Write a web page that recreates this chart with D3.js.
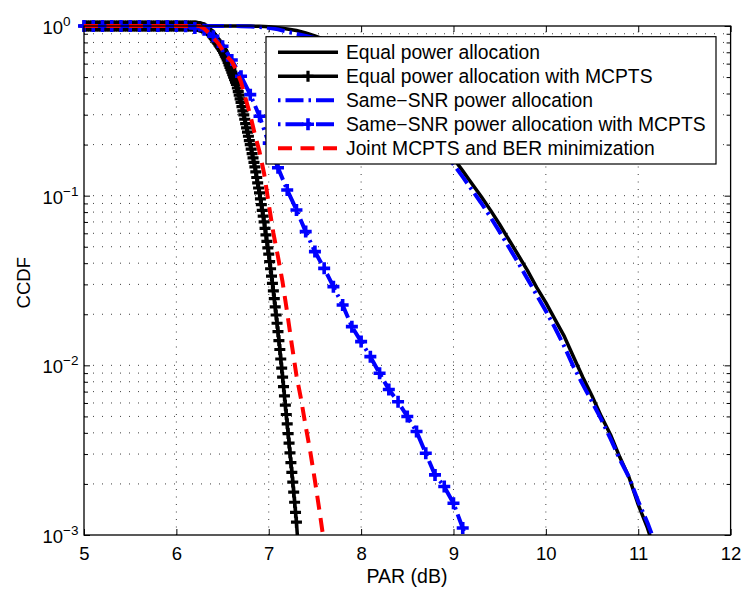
<!DOCTYPE html>
<html><head><meta charset="utf-8">
<script src="https://cdn.jsdelivr.net/npm/d3@7"></script>
<style>
html,body{margin:0;padding:0;background:#fff;}
svg{display:block;font-family:"Liberation Sans",Arial,Helvetica,sans-serif;}
</style></head><body>
<svg id="chart" width="746" height="589"></svg>
<script>
// ---------------- DATA ----------------
const xTickValues = [5, 6, 7, 8, 9, 10, 11, 12];
const yTickValues = [1e-3, 1e-2, 1e-1, 1];
const yTickExponents = ["\u22123", "\u22122", "\u22121", "0"];
const xLabel = "PAR (dB)";
const yLabel = "CCDF";
const seriesNames = [
  "Equal power allocation",
  "Equal power allocation with MCPTS",
  "Same\u2212SNR power allocation",
  "Same\u2212SNR power allocation with MCPTS",
  "Joint MCPTS and BER minimization"
];

// Equal power allocation (solid black)
const eqPar  = [5, 5.5, 6, 6.5, 6.8, 6.9, 7, 7.1, 7.2, 7.3, 7.4, 7.5, 7.6, 7.7, 7.8, 7.9, 8, 8.1, 8.2, 8.3, 8.4, 8.5, 8.6, 8.7, 8.8, 8.9, 9, 9.1, 9.2, 9.3, 9.4, 9.5, 9.6, 9.7, 9.8, 9.9, 10, 10.1, 10.2, 10.3, 10.4, 10.5, 10.6, 10.7, 10.8, 10.9, 11, 11.1, 11.2];
const eqCcdf = [1, 1, 1, 1, 0.999, 0.997, 0.99, 0.978, 0.96, 0.94, 0.91, 0.875, 0.835, 0.79, 0.735, 0.675, 0.615, 0.555, 0.495, 0.44, 0.385, 0.338, 0.295, 0.256, 0.222, 0.192, 0.166, 0.140, 0.1175, 0.0989, 0.0822, 0.0676, 0.055, 0.0447, 0.0363, 0.0288, 0.0234, 0.0186, 0.0148, 0.0112, 0.0085, 0.0066, 0.0050, 0.0039, 0.00288, 0.00219, 0.00151, 0.0011, 0.00075];

// Equal power allocation with MCPTS (black, + markers)
const eqMcptsPar = [
  5, 5.02, 5.04, 5.06, 5.08, 5.1, 5.12, 5.14, 5.16, 5.18, 5.2, 5.22, 5.24, 5.26, 5.28, 5.3, 5.32, 5.34, 5.36, 5.38,
  5.4, 5.42, 5.44, 5.46, 5.48, 5.5, 5.52, 5.54, 5.56, 5.58, 5.6, 5.62, 5.64, 5.66, 5.68, 5.7, 5.72, 5.74, 5.76, 5.78,
  5.8, 5.82, 5.84, 5.86, 5.88, 5.9, 5.92, 5.94, 5.96, 5.98, 6, 6.02, 6.04, 6.06, 6.08, 6.1, 6.12, 6.14, 6.16, 6.18,
  6.2, 6.21, 6.22, 6.23, 6.24, 6.25, 6.26, 6.27, 6.28, 6.29, 6.3, 6.31, 6.32, 6.33, 6.34, 6.35, 6.36, 6.37, 6.38, 6.39,
  6.4, 6.41, 6.42, 6.43, 6.44, 6.45, 6.46, 6.47, 6.48, 6.49, 6.5, 6.51, 6.52, 6.53, 6.54, 6.55, 6.56, 6.57, 6.58, 6.59,
  6.6, 6.61, 6.62, 6.63, 6.64, 6.65, 6.66, 6.67, 6.68, 6.69, 6.7, 6.71, 6.72, 6.73, 6.74, 6.75, 6.76, 6.77, 6.78, 6.79,
  6.8, 6.81, 6.82, 6.83, 6.84, 6.85, 6.86, 6.87, 6.88, 6.89, 6.9, 6.91, 6.92, 6.93, 6.94, 6.95, 6.96, 6.97, 6.98, 6.99,
  7, 7.01, 7.02, 7.03, 7.04, 7.05, 7.06, 7.07, 7.08, 7.09, 7.1, 7.11, 7.12, 7.13, 7.14, 7.15, 7.16, 7.17, 7.18, 7.19,
  7.2, 7.21, 7.22, 7.23, 7.24, 7.25, 7.26, 7.27, 7.28, 7.29, 7.3, 7.31];
const eqMcptsCcdf = [
  1, 1, 1, 1, 1, 1, 1, 1, 1, 1, 1, 1, 1, 1, 1, 1, 1, 1, 1, 1,
  1, 1, 1, 1, 1, 1, 1, 1, 1, 1, 1, 1, 1, 1, 1, 1, 1, 1, 1, 1,
  1, 1, 1, 1, 1, 1, 1, 1, 1, 1, 1, 1, 1, 1, 1, 1, 1, 1, 1, 1,
  1, 0.998, 0.996, 0.994, 0.992, 0.991, 0.987, 0.984, 0.980, 0.976, 0.973, 0.965, 0.957, 0.949, 0.941, 0.933, 0.918, 0.904, 0.889, 0.875,
  0.861, 0.846, 0.831, 0.817, 0.803, 0.789, 0.774, 0.760, 0.746, 0.733, 0.719, 0.701, 0.683, 0.665, 0.648, 0.631, 0.610, 0.590, 0.571, 0.553,
  0.535, 0.517, 0.500, 0.483, 0.467, 0.452, 0.431, 0.410, 0.391, 0.372, 0.355, 0.335, 0.316, 0.299, 0.282, 0.266, 0.251, 0.237, 0.224, 0.211,
  0.200, 0.188, 0.177, 0.167, 0.157, 0.148, 0.138, 0.128, 0.119, 0.111, 0.104, 0.0957, 0.0885, 0.0818, 0.0757, 0.0700, 0.0641, 0.0587, 0.0538, 0.0493,
  0.0452, 0.0409, 0.0371, 0.0336, 0.0304, 0.0275, 0.0247, 0.0221, 0.0198, 0.0177, 0.0158, 0.0140, 0.0124, 0.0109, 0.00964, 0.00851, 0.00750, 0.00661, 0.00582, 0.00513,
  0.00452, 0.00396, 0.00348, 0.00305, 0.00267, 0.00234, 0.00205, 0.00179, 0.00156, 0.00136, 0.00119, 0.00099];

// Same-SNR power allocation (blue dash-dot)
const snrPar  = [5, 5.5, 6, 6.5, 6.7, 6.8, 6.9, 7, 7.1, 7.2, 7.3, 7.4, 7.5, 7.6, 7.7, 7.8, 7.9, 8, 8.1, 8.2, 8.3, 8.4, 8.5, 8.6, 8.7, 8.8, 8.9, 9, 9.1, 9.2, 9.3, 9.4, 9.5, 9.6, 9.7, 9.8, 9.9, 10, 10.1, 10.2, 10.3, 10.4, 10.5, 10.6, 10.7, 10.8, 10.9, 11, 11.1, 11.2];
const snrCcdf = [1, 1, 1, 1, 0.998, 0.994, 0.987, 0.975, 0.955, 0.925, 0.90, 0.875, 0.848, 0.81, 0.763, 0.705, 0.645, 0.585, 0.525, 0.467, 0.412, 0.361, 0.316, 0.275, 0.238, 0.207, 0.179, 0.153, 0.129, 0.108, 0.0905, 0.0748, 0.0612, 0.0496, 0.0403, 0.0324, 0.0260, 0.0209, 0.0166, 0.0129, 0.0098, 0.0077, 0.0061, 0.0048, 0.0037, 0.0028, 0.00219, 0.00158, 0.00118, 0.00085];

// Same-SNR power allocation with MCPTS (blue dash-dot, + markers)
const snrMcptsPar  = [5, 5.1, 5.2, 5.3, 5.4, 5.5, 5.6, 5.7, 5.8, 5.9, 6, 6.1, 6.2, 6.3, 6.4, 6.5, 6.6, 6.7, 6.8, 6.9, 7, 7.1, 7.2, 7.3, 7.4, 7.5, 7.6, 7.7, 7.8, 7.9, 8, 8.1, 8.2, 8.3, 8.4, 8.5, 8.6, 8.7, 8.8, 8.9, 9, 9.1, 9.2];
const snrMcptsCcdf = [1, 1, 1, 1, 1, 1, 1, 1, 1, 1, 1, 0.998, 0.973, 0.95, 0.87, 0.76, 0.63, 0.506, 0.394, 0.294, 0.204, 0.146, 0.108, 0.0824, 0.0614, 0.0468, 0.0373, 0.0291, 0.0227, 0.0169, 0.0138, 0.01125, 0.00898, 0.0072, 0.0061, 0.00499, 0.00407, 0.00303, 0.00226, 0.00193, 0.00154, 0.0011, 0.0007];

// Joint MCPTS and BER minimization (red dashed)
const jointPar  = [5, 5.5, 6, 6.25, 6.3, 6.35, 6.4, 6.45, 6.5, 6.55, 6.6, 6.65, 6.7, 6.75, 6.8, 6.85, 6.9, 6.95, 7, 7.05, 7.1, 7.15, 7.2, 7.25, 7.3, 7.35, 7.4, 7.45, 7.5, 7.55, 7.6];
const jointCcdf = [1, 1, 1, 0.999, 0.966, 0.912, 0.851, 0.794, 0.724, 0.661, 0.617, 0.550, 0.468, 0.372, 0.299, 0.229, 0.182, 0.135, 0.0891, 0.0603, 0.0437, 0.0309, 0.0204, 0.0132, 0.00871, 0.00631, 0.00437, 0.00309, 0.00209, 0.00138, 0.00089];

// ---------------- CHART ----------------
const L = 84, R = 730.6, T = 26, B = 535;
const svg = d3.select("#chart");

const x = d3.scaleLinear().domain([5, 12]).range([L, R]);
const y = d3.scaleLog().domain([1e-3, 1]).range([B, T]);

const minorY = [];
yTickValues.slice(0, -1).forEach(v => { for (let m = 2; m <= 9; m++) minorY.push(v * m); });

// grid
const grid = svg.append("g");
grid.selectAll("line.gx").data(xTickValues.slice(1, -1)).join("line")
  .attr("x1", d => x(d)).attr("x2", d => x(d)).attr("y1", B).attr("y2", T)
  .attr("stroke", "#000").attr("stroke-width", 1).attr("stroke-dasharray", "1,6.5").attr("opacity", 0.75);
grid.selectAll("line.gy").data(minorY.concat(yTickValues.slice(1, -1))).join("line")
  .attr("x1", L).attr("x2", R).attr("y1", d => y(d)).attr("y2", d => y(d))
  .attr("stroke", "#000").attr("stroke-width", 1).attr("stroke-dasharray", "1,8").attr("opacity", 0.75);

// axes ticks (inside)
function styleAxis(g) { g.select(".domain").remove(); g.selectAll("line").attr("stroke", "#000").attr("stroke-width", 1); }
svg.append("g").attr("transform", `translate(0,${B})`)
  .call(d3.axisBottom(x).tickValues(xTickValues).tickSize(-6).tickPadding(12).tickFormat(d3.format("d")))
  .call(styleAxis)
  .call(g => g.selectAll("text").attr("font-size", 18.5).attr("fill", "#000").attr("font-family", "Liberation Sans, Arial, sans-serif"));
svg.append("g").attr("transform", `translate(0,${T})`)
  .call(d3.axisTop(x).tickValues(xTickValues).tickSize(-6).tickFormat(""))
  .call(styleAxis);
svg.append("g").attr("transform", `translate(${L},0)`)
  .call(d3.axisLeft(y).tickValues(yTickValues).tickSize(-6).tickFormat(""))
  .call(styleAxis);
svg.append("g").attr("transform", `translate(${L},0)`)
  .call(d3.axisLeft(y).tickValues(minorY).tickSize(-4).tickFormat(""))
  .call(styleAxis);
svg.append("g").attr("transform", `translate(${R},0)`)
  .call(d3.axisRight(y).tickValues(yTickValues).tickSize(-6).tickFormat(""))
  .call(styleAxis);
svg.append("g").attr("transform", `translate(${R},0)`)
  .call(d3.axisRight(y).tickValues(minorY).tickSize(-4).tickFormat(""))
  .call(styleAxis);

// y tick labels 10^k
const yl = svg.append("g").selectAll("text").data(yTickValues).join("text")
  .attr("x", 42.5).attr("y", d => y(d) + 8).attr("font-size", 18.5).attr("fill", "#000");
yl.append("tspan").text("10");
yl.append("tspan").attr("font-size", 13.5).attr("dy", -8).text((d, i) => yTickExponents[i]);

// axis labels
svg.append("text").attr("x", 407).attr("y", 583).attr("text-anchor", "middle")
  .attr("font-size", 19.5).attr("fill", "#000").text(xLabel);
svg.append("text").attr("transform", "translate(30,282.7) rotate(-90)").attr("text-anchor", "middle")
  .attr("font-size", 18.5).attr("fill", "#000").text(yLabel);

// clip
svg.append("clipPath").attr("id", "plotclip").append("rect")
  .attr("x", L).attr("y", T - 10).attr("width", R - L).attr("height", B - T + 10);

const line = d3.line().x(d => x(d[0])).y(d => y(d[1]));
const zip = (a, b) => a.map((v, i) => [v, b[i]]);
const plusPath = s => `M${-s},0H${s}M0,${-s}V${s}`;

const series = [
  { par: eqPar, ccdf: eqCcdf, color: "#000", width: 3.5, dash: null, marker: 0, mw: 0 },
  { par: eqMcptsPar, ccdf: eqMcptsCcdf, color: "#000", width: 3.5, dash: null, marker: 5.5, mw: 3.2 },
  { par: snrPar, ccdf: snrCcdf, color: "#0000ff", width: 4, dash: "18,5,2.5,5", marker: 0, mw: 0 },
  { par: snrMcptsPar, ccdf: snrMcptsCcdf, color: "#0000ff", width: 4, dash: "18,5,2.5,5", marker: 6, mw: 3.6 },
  { par: jointPar, ccdf: jointCcdf, color: "#ff0000", width: 4, dash: "14,8.5", marker: 0, mw: 0 }
];

const plot = svg.append("g");
series.forEach(s => {
  const pts = zip(s.par, s.ccdf);
  plot.append("path").attr("clip-path", "url(#plotclip)")
    .attr("d", line(pts)).attr("fill", "none").attr("stroke", s.color)
    .attr("stroke-width", s.width).attr("stroke-dasharray", s.dash)
    .attr("stroke-linejoin", "round");
  if (s.marker) {
    plot.append("g").selectAll("path").data(pts.filter(p => p[1] >= 1e-3)).join("path")
      .attr("transform", d => `translate(${x(d[0])},${y(d[1])})`)
      .attr("d", plusPath(s.marker)).attr("fill", "none").attr("stroke", s.color).attr("stroke-width", s.mw);
  }
});

// frame
svg.append("rect").attr("x", L).attr("y", T).attr("width", R - L).attr("height", B - T)
  .attr("fill", "none").attr("stroke", "#000").attr("stroke-width", 1.3);

// legend
const lg = svg.append("g");
lg.append("rect").attr("x", 266).attr("y", 36.7).attr("width", 450).attr("height", 127.3)
  .attr("fill", "#fff").attr("stroke", "#000").attr("stroke-width", 1.2);
const rowY = i => 52.3 + 24 * i;
series.forEach((s, i) => {
  const yy = rowY(i);
  lg.append("line").attr("x1", 278).attr("x2", 338).attr("y1", yy).attr("y2", yy)
    .attr("stroke", s.color).attr("stroke-width", s.width)
    .attr("stroke-dasharray", s.dash).attr("stroke-dashoffset", s.dash && s.dash.split(",").length === 4 ? 23 : 0);
  if (s.marker) {
    lg.append("path").attr("transform", `translate(308,${yy})`).attr("d", plusPath(s.marker))
      .attr("fill", "none").attr("stroke", s.color).attr("stroke-width", s.mw);
  }
  lg.append("text").attr("x", 346).attr("y", yy + 6.8).attr("font-size", 19.3).attr("fill", "#000").text(seriesNames[i]);
});
</script>
</body></html>
